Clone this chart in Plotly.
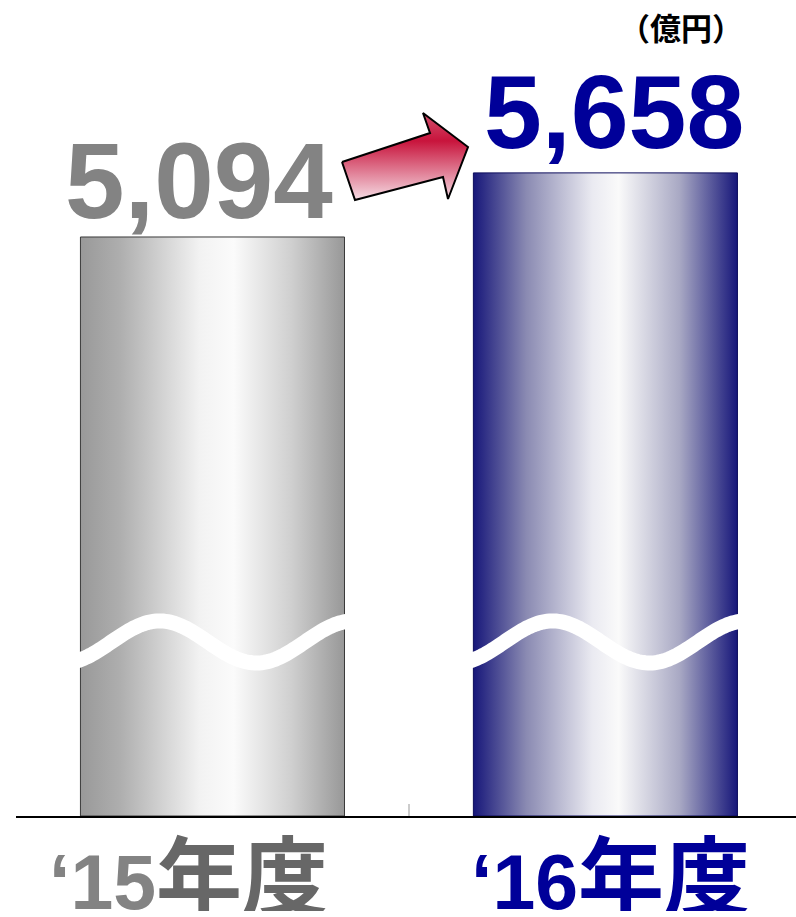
import numpy as np
import plotly.graph_objects as go

# Net sales by fiscal year (unit: 100 million yen)
year_labels = ["‘15", "‘16"]
year_suffix = "年度"
sales = [5094, 5658]
unit_label = "（億円）"

# styling per bar
label_colors = ["#838383", "#000099"]
suffix_colors = ["#676767", "#000099"]
outline_colors = ["#3a3a3a", "#0c0c5c"]
gradients = [
    [[0.0, "#999999"], [0.15, "#aeaeae"], [0.45, "#f2f2f2"], [0.58, "#fbfbfb"],
     [0.8, "#cfcfcf"], [1.0, "#989898"]],
    [[0.0, "#17177a"], [0.2, "#8a8ab2"], [0.45, "#eaeaf1"], [0.55, "#fafafa"],
     [0.78, "#a9a9c4"], [1.0, "#17177a"]],
]
value_font_sizes = [107, 104]
value_xshift = [-13, 9]
value_yshift = [-6, 1]
cat_xshift = [-24, 5]

BAR_W = 0.672
Y_TOP = 7179          # upper end of the value axis
BREAK_Y = 1531        # vertical position of the axis-break wave
BREAK_AMP = 185

fig = go.Figure()

# gradient-filled bars
for i, v in enumerate(sales):
    x0, x1 = i - BAR_W / 2, i + BAR_W / 2
    fig.add_trace(go.Scatter(
        x=[x0, x1, x1, x0, x0], y=[0, 0, v, v, 0],
        mode="lines", fill="toself",
        fillgradient=dict(type="horizontal", colorscale=gradients[i]),
        line=dict(color=outline_colors[i], width=1),
        hoverinfo="skip",
    ))

# white wave marking the broken axis
for i in range(len(sales)):
    t = np.linspace(-0.015, 1.015, 120)
    xs = i - BAR_W / 2 + t * BAR_W
    ys = BREAK_Y + BREAK_AMP * np.cos(2 * np.pi * (t - 0.30) / 0.733)
    fig.add_trace(go.Scatter(
        x=xs, y=ys, mode="lines",
        line=dict(color="white", width=15, simplify=False),
        hoverinfo="skip",
    ))

# growth arrow, drawn on a pixel-scaled overlay axis pair
arrow_x = [342, 430, 423, 468, 448, 443, 355, 342]
arrow_y = [162, 133, 113, 147, 199, 177, 200, 162]
fig.add_trace(go.Scatter(
    x=arrow_x, y=arrow_y, xaxis="x2", yaxis="y2",
    mode="lines", fill="toself",
    fillgradient=dict(type="vertical",
                      colorscale=[[0.0, "#f6dde5"], [0.68, "#c8143c"], [1.0, "#d2506e"]]),
    line=dict(color="black", width=2),
    hoverinfo="skip",
))

annotations = []
for i, v in enumerate(sales):
    annotations.append(dict(
        x=i, y=v, xref="x", yref="y", text=f"{v:,}",
        showarrow=False, xanchor="center", yanchor="bottom",
        xshift=value_xshift[i], yshift=value_yshift[i],
        font=dict(family="Liberation Sans, Arial", size=value_font_sizes[i],
                  color=label_colors[i], weight="bold"),
    ))
    annotations.append(dict(
        x=i, y=-0.068, xref="x", yref="paper",
        text=(f'<span style="color:{label_colors[i]}">{year_labels[i]}</span>'
              f'<span style="color:{suffix_colors[i]};font-family:Noto Sans CJK JP;'
              f'font-size:86px">{year_suffix}</span>'),
        showarrow=False, xanchor="center", yanchor="middle",
        height=80, valign="middle",
        xshift=cat_xshift[i],
        font=dict(family="Liberation Sans, Arial", size=77,
                  color=label_colors[i], weight="bold"),
    ))

annotations.append(dict(
    x=0.852, y=0.968, xref="paper", yref="paper", text=unit_label,
    showarrow=False, xanchor="center", yanchor="middle",
    font=dict(family="Noto Sans CJK JP", size=31, color="black", weight="bold"),
))

fig.update_layout(
    width=796, height=917,
    margin=dict(l=16, r=0, t=0, b=101),
    plot_bgcolor="white", paper_bgcolor="white",
    showlegend=False,
    xaxis=dict(range=[-0.5, 1.485], tickvals=[-0.5, 0.5], ticks="inside",
               ticklen=12, tickcolor="#cccccc", tickwidth=1.5,
               showticklabels=False, showgrid=False, zeroline=False,
               showline=True, linecolor="black", linewidth=2),
    yaxis=dict(range=[0, Y_TOP], visible=False),
    xaxis2=dict(overlaying="x", anchor="y2", range=[16, 796], visible=False),
    yaxis2=dict(overlaying="y", anchor="x2", range=[816, 0], visible=False),
    annotations=annotations,
)

fig.write_html("out.html")
